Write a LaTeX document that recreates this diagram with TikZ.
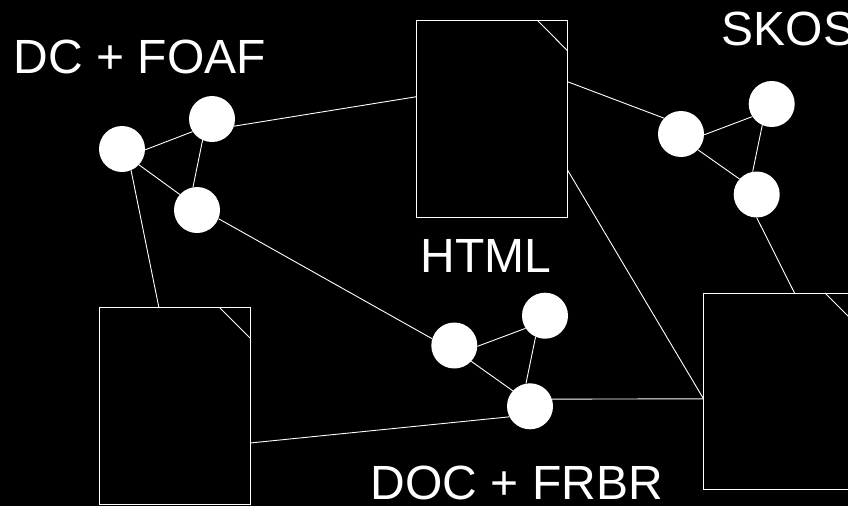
\documentclass[tikz,border=0pt]{standalone}
\usepackage{fontspec}
\setmainfont{Liberation Sans}
\tikzset{
  blob/.style={circle,fill=white,draw=none,minimum size=46pt,inner sep=0pt},
  page/.style={draw=white,line width=.9pt,fill=black,minimum width=151pt,minimum height=196.5pt,inner sep=0pt},
  link/.style={draw=white,line width=.9pt},
  caption/.style={text=white,anchor=base west,inner sep=0pt,font=\fontsize{48}{52}\selectfont}
}
\begin{document}
\begin{tikzpicture}[x=1pt,y=-1pt]
    \fill [black] (0,0) rectangle (848,506);
    \useasboundingbox (0,0) rectangle (848,506);
    % ------ pages ------
    \node [page] (pageA) at (492,119) {};
    \node [page] (pageB) at (174.5,406) {};
    \node [page] (pageC) at (779,391.3) {};
    \coordinate (foldAa) at (537.7,20.7);
    \coordinate (foldAb) at (567.5,50.7);
    \coordinate (foldBa) at (220,308);
    \coordinate (foldBb) at (250,338);
    \coordinate (foldCa) at (825,293);
    \coordinate (foldCb) at (855,323);
    \draw [link] (foldAa)--(foldAb);
    \draw [link] (foldBa)--(foldBb);
    \draw [link] (foldCa)--(foldCb);
    % ------ the three triangles ------
    \node [blob] (dcA) at (122,149) {};
    \node [blob] (dcB) at (212,119) {};
    \node [blob] (dcC) at (197,210) {};
    \node [blob] (skA) at (681,134) {};
    \node [blob] (skB) at (771.7,104) {};
    \node [blob] (skC) at (756.7,194.5) {};
    \node [blob] (frA) at (454.3,345.5) {};
    \node [blob] (frB) at (545,315.7) {};
    \node [blob] (frC) at (530,406.3) {};
    \draw [link] (dcA.358)--(dcB.213);
    \draw [link] (dcB.246)--(dcC.100);
    \draw [link] (dcA.317)--(dcC.138);
    \draw [link] (skA.358)--(skB.213);
    \draw [link] (skB.246)--(skC.100);
    \draw [link] (skA.317)--(skC.138);
    \draw [link] (frA.358)--(frB.213);
    \draw [link] (frB.246)--(frC.100);
    \draw [link] (frA.317)--(frC.138);
    % ------ links ------
    \coordinate (pageAw) at (416.5,96.7);
    \coordinate (pageAe) at (567.5,81.7);
    \coordinate (pageAs) at (567.5,170);
    \coordinate (pageBn) at (159,308);
    \coordinate (pageBe) at (250,443);
    \coordinate (pageCn) at (794.5,293);
    \coordinate (pageCw) at (703.5,398.8);
    \draw [link] (dcB.342)--(pageAw);
    \draw [link] (pageAe)--(skA.137);
    \draw [link] (pageAs)--(pageCw);
    \draw [link] (dcA.293)--(pageBn);
    \draw [link] (dcC.338)--(frA.163);
    \draw [link] (skC.270)--(pageCn);
    \draw [link] (pageBe)--(frC.207);
    \draw [link] (frC.18)--(pageCw);
    % ------ captions ------
    \node [caption] (capDc) at (13.5,73.3) {DC + FOAF};
    \node [caption] (capSk) at (721.5,45) {SKOS};
    \node [caption] (capHt) at (420.5,272.7) {HTML};
    \node [caption] (capFr) at (370.5,499.3) {DOC + FRBR};
\end{tikzpicture}
\end{document}
